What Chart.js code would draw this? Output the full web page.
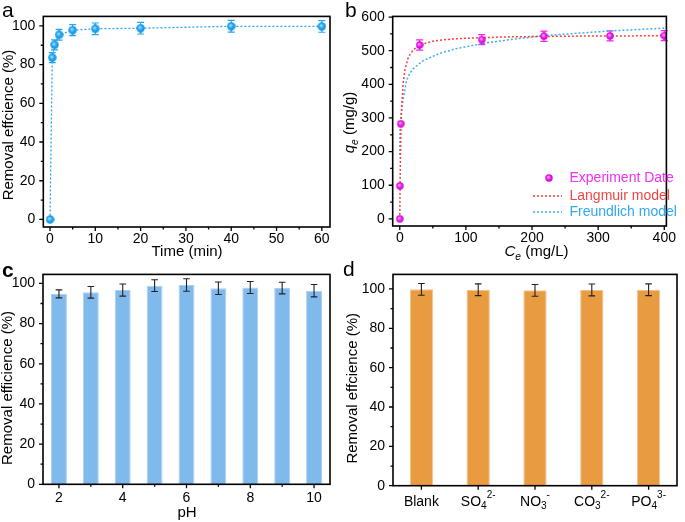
<!DOCTYPE html>
<html><head><meta charset="utf-8">
<script src="https://cdn.jsdelivr.net/npm/chart.js@4.4.1/dist/chart.umd.min.js"></script>
<style>
html,body{margin:0;padding:0;background:#fff;}
body{width:685px;height:522px;position:relative;overflow:hidden;}
canvas{position:absolute;}
</style></head><body>
<canvas id="ca" width="340" height="261" style="left:0;top:0"></canvas>
<canvas id="cb" width="340" height="261" style="left:340px;top:0"></canvas>
<canvas id="cc" width="340" height="264" style="left:0;top:258px"></canvas>
<canvas id="cd" width="345" height="264" style="left:340px;top:258px"></canvas>
<script>
// ---------- data ----------
// (a) kinetics
const timeMin = [0, 0.5, 1, 2, 5, 10, 20, 40, 60];
const removalTime = [0, 83.6, 90.2, 95.4, 97.8, 98.5, 98.8, 99.8, 99.7];
const removalTimeErr = [0, 2.6, 2.6, 2.8, 2.8, 3.0, 3.0, 3.0, 3.0];
// (b) isotherm
const ceExp = [0, 0.2, 1.5, 30, 124, 218, 318, 400];
const qeExp = [0, 98, 283, 517, 533, 543, 544, 545];
const qeErr = [0, 0, 0, 15, 15, 15, 15, 15];
const ceLangmuir = [0, 0.5, 1, 2, 3, 5, 8, 12, 16, 20, 25, 30, 40, 50, 60, 80, 100, 130, 160, 200, 250, 300, 350, 400];
const qeLangmuir = [0, 118, 194, 286, 340, 401, 445, 475, 491, 501, 510, 516, 523, 528, 531, 535, 537, 539, 541, 542, 543, 544, 544, 545];
const ceFreundlich = [0.02, 0.3, 1, 2, 5, 10, 15, 20, 35, 60, 85, 130, 175, 220, 270, 320, 360, 400];
const qeFreundlich = [190, 255, 285, 312, 354, 410, 432, 446, 470, 492, 506, 523, 535, 545, 552, 559, 563, 567];
const seriesNamesB = ['Experiment Date', 'Langmuir model', 'Freundlich model'];
// (c) pH
const phLabels = ['2', '3', '4', '5', '6', '7', '8', '9', '10'];
const removalPH = [94.8, 95.6, 96.7, 98.9, 99.2, 97.6, 98.0, 97.7, 96.4];
const removalPHErr = [2.0, 2.9, 3.0, 2.9, 3.1, 3.1, 3.0, 2.9, 3.1];
// (d) coexisting ions
const ionLabels = ['Blank', 'SO\u2084\u00B2\u207B', 'NO\u2083\u207B', 'CO\u2083\u00B2\u207B', 'PO\u2084\u00B3\u207B'];
const removalIon = [99.8, 99.6, 99.3, 99.5, 99.6];
const removalIonErr = [3.0, 3.0, 3.0, 3.0, 3.0];

// ---------- helpers ----------
const FONT = '"Liberation Sans", Arial, Helvetica, "DejaVu Sans", sans-serif';

function sphere(color, light, dark, d) {
  const c = document.createElement('canvas');
  c.width = c.height = d;
  const g = c.getContext('2d');
  const r = d / 2;
  const grad = g.createRadialGradient(r * 0.8, r * 0.75, 0, r, r, r);
  grad.addColorStop(0, light);
  grad.addColorStop(0.5, color);
  grad.addColorStop(1, dark);
  g.fillStyle = grad;
  g.beginPath(); g.arc(r, r, r - 0.3, 0, Math.PI * 2); g.fill();
  return c;
}

// converts unicode sub/superscript characters into drawable segments
const SUBS = '\u2080\u2081\u2082\u2083\u2084\u2085\u2086\u2087\u2088\u2089';
const SUPS = { '\u2070': '0', '\u00B9': '1', '\u00B2': '2', '\u00B3': '3', '\u2074': '4', '\u2075': '5', '\u2076': '6', '\u2077': '7', '\u2078': '8', '\u2079': '9', '\u207B': '-', '\u207A': '+' };
function toSegs(str) {
  const segs = [];
  for (const ch of str) {
    let kind = 'n', t = ch;
    const si = SUBS.indexOf(ch);
    if (si >= 0) { kind = 'sub'; t = String(si); }
    else if (SUPS[ch] !== undefined) { kind = 'sup'; t = SUPS[ch]; }
    const last = segs[segs.length - 1];
    if (last && last.kind === kind) last.t += t; else segs.push({ kind, t, sub: kind === 'sub', sup: kind === 'sup' });
  }
  return segs;
}

function drawRich(ctx, segs, cx, cy, rot, base, opt) {
  opt = opt || {};
  const subScale = opt.subScale || 0.68, subDy = opt.subDy != null ? opt.subDy : base * 0.32, supDy = opt.supDy != null ? opt.supDy : -base * 0.45;
  ctx.save();
  ctx.translate(cx, cy);
  ctx.rotate(rot);
  let w = 0;
  const parts = segs.map(s => {
    const small = s.sub || s.sup;
    const size = small ? base * subScale : base;
    const font = (s.italic ? 'italic ' : '') + size + 'px ' + FONT;
    ctx.font = font;
    const m = ctx.measureText(s.t).width;
    w += m;
    return { t: s.t, font, w: m, dy: s.sub ? subDy : (s.sup ? supDy : 0) };
  });
  let x = -w / 2;
  ctx.textBaseline = 'middle';
  ctx.textAlign = 'left';
  ctx.fillStyle = '#000';
  for (const p of parts) { ctx.font = p.font; ctx.fillText(p.t, x, p.dy); x += p.w; }
  ctx.restore();
}

function drawErrors(chart, cap, lw) {
  const ctx = chart.ctx;
  chart.data.datasets.forEach((ds, di) => {
    if (!ds.errorBars) return;
    const meta = chart.getDatasetMeta(di);
    const ys = chart.scales[meta.yAxisID];
    ctx.save();
    ctx.strokeStyle = ds.errorColor;
    ctx.lineWidth = lw;
    meta.data.forEach((el, i) => {
      const e = ds.errorBars[i];
      if (!e) return;
      const d = ds.data[i];
      const v = (typeof d === 'object') ? d.y : d;
      const y1 = ys.getPixelForValue(v + e), y2 = ys.getPixelForValue(v - e);
      const x = el.x;
      ctx.beginPath();
      ctx.moveTo(x, y1); ctx.lineTo(x, y2);
      ctx.moveTo(x - cap, y1); ctx.lineTo(x + cap, y1);
      ctx.moveTo(x - cap, y2); ctx.lineTo(x + cap, y2);
      ctx.stroke();
    });
    ctx.restore();
  });
}

function drawTicks(chart, scale, horiz, major, minor) {
  const ctx = chart.ctx, a = chart.chartArea;
  const marks = [];
  if (scale.type === 'category') {
    scale.ticks.forEach((t, i) => marks.push([scale.getPixelForTick(i), t.label === '' ? minor : major]));
  } else {
    const vals = scale.ticks.map(t => t.value);
    vals.forEach((v, i) => {
      marks.push([scale.getPixelForValue(v), major]);
      if (i < vals.length - 1) marks.push([scale.getPixelForValue((v + vals[i + 1]) / 2), minor]);
    });
  }
  ctx.save();
  ctx.strokeStyle = '#000';
  ctx.lineWidth = 1.3;
  ctx.beginPath();
  marks.forEach(([p, len]) => {
    if (horiz) { ctx.moveTo(p, a.bottom); ctx.lineTo(p, a.bottom + len); }
    else { ctx.moveTo(a.left, p); ctx.lineTo(a.left - len, p); }
  });
  ctx.stroke();
  ctx.restore();
}

const deco = {
  id: 'deco',
  beforeDatasetsDraw(chart, args, o) {
    if (o.errUnder) drawErrors(chart, o.cap, o.errWidth);
  },
  afterDatasetsDraw(chart, args, o) {
    if (!o.errUnder) drawErrors(chart, o.cap, o.errWidth);
  },
  afterDraw(chart, args, o) {
    const ctx = chart.ctx, a = chart.chartArea;
    ctx.save();
    ctx.strokeStyle = '#000';
    ctx.lineWidth = 1.6;
    ctx.strokeRect(a.left, a.top, a.right - a.left, a.bottom - a.top);
    ctx.restore();
    drawTicks(chart, chart.scales.x, true, 4, 2.5);
    drawTicks(chart, chart.scales.y, false, 4, 2.5);
    if (o.richXLabels) {
      const xs = chart.scales.x;
      chart.data.labels.forEach((lab, i) => {
        drawRich(ctx, toSegs(lab), xs.getPixelForTick(i), a.bottom + o.richXLabels.dy, 0, 14,
          { subScale: 0.72, subDy: 4.6, supDy: -6.5 });
      });
    }
    if (o.xTitle) drawRich(ctx, o.xTitle.segs, o.xTitle.x, o.xTitle.y, 0, 15);
    if (o.yTitle) drawRich(ctx, o.yTitle.segs, o.yTitle.x, o.yTitle.y, -Math.PI / 2, 15);
    if (o.label) {
      ctx.save();
      ctx.fillStyle = '#000';
      ctx.font = (o.label.bold ? 'bold ' : '') + '21px ' + FONT;
      ctx.textBaseline = 'alphabetic';
      ctx.textAlign = 'left';
      ctx.fillText(o.label.text, o.label.x, o.label.y);
      ctx.restore();
    }
    if (o.legend) {
      const L = o.legend;
      chart.data.datasets.forEach((ds, i) => {
        const y = L.ys[i];
        ctx.save();
        if (ds.legendKind === 'point') {
          const img = ds.pointStyle;
          ctx.drawImage(img, L.markX - img.width / 2, y - img.height / 2);
        } else {
          ctx.strokeStyle = ds.borderColor;
          ctx.lineWidth = ds.borderWidth;
          ctx.setLineDash(ds.borderDash);
          ctx.beginPath(); ctx.moveTo(L.x1, y); ctx.lineTo(L.x2, y); ctx.stroke();
        }
        ctx.setLineDash([]);
        ctx.fillStyle = ds.legendTextColor;
        ctx.font = '14px ' + FONT;
        ctx.textBaseline = 'middle';
        ctx.textAlign = 'left';
        ctx.fillText(ds.label, L.textX, y);
        ctx.restore();
      });
    }
  }
};
Chart.register(deco);

function linAxis(min, max, step, fitFn, pad) {
  return {
    type: 'linear', min, max,
    grid: { display: false, drawTicks: false, tickLength: 0 },
    border: { display: false },
    ticks: { stepSize: step, includeBounds: false, font: { family: FONT, size: 14 }, color: '#000', padding: pad, autoSkip: false, maxRotation: 0 },
    afterFit: fitFn
  };
}
function catAxis(cb, fitFn, pad, show) {
  return {
    type: 'category',
    grid: { display: false, drawTicks: false, tickLength: 0 },
    border: { display: false },
    ticks: { display: show, callback: cb, font: { family: FONT, size: 14 }, color: '#000', padding: pad, autoSkip: false, maxRotation: 0 },
    afterFit: fitFn
  };
}
const common = { responsive: false, animation: false, events: [] };
const removalTitleA = [{ t: 'Removal effcience (%)' }];
const removalTitleC = [{ t: 'Removal efficience (%)' }];

// ---------- (a) ----------
const blueA = '#27A6F0';
new Chart(document.getElementById('ca'), {
  type: 'scatter',
  data: { datasets: [{
    data: timeMin.map((t, i) => ({ x: t, y: removalTime[i] })),
    showLine: true, borderColor: blueA, borderWidth: 1.3, borderDash: [2, 2],
    pointStyle: sphere(blueA, '#BFE7FF', '#1490DD', 9),
    errorBars: removalTimeErr, errorColor: blueA
  }] },
  options: Object.assign({}, common, {
    layout: { padding: { top: 12, right: 10, left: 0, bottom: 0 } },
    plugins: { legend: { display: false }, tooltip: { enabled: false },
      deco: { errUnder: true, cap: 3.5, errWidth: 1.2,
        label: { text: 'a', x: 2, y: 16.5 },
        xTitle: { segs: [{ t: 'Time (min)' }], x: 187, y: 252 },
        yTitle: { segs: removalTitleA, x: 8.5, y: 125 } } },
    scales: {
      x: linAxis(-1.48, 61.8, 10, s => { s.height = 34; }, 4),
      y: linAxis(-3.9, 104.9, 20, s => { s.width = 43.3; }, 8)
    }
  })
});

// ---------- (b) ----------
const magenta = '#F020F0', redL = '#FF3B3B', blueF = '#3AAEF0';
new Chart(document.getElementById('cb'), {
  type: 'scatter',
  data: { datasets: [
    { label: seriesNamesB[0], data: ceExp.map((c, i) => ({ x: c, y: qeExp[i] })),
      pointStyle: sphere(magenta, '#FFC8FF', '#C000C0', 8), legendKind: 'point', legendTextColor: '#F030F0',
      errorBars: qeErr, errorColor: magenta },
    { label: seriesNamesB[1], data: ceLangmuir.map((c, i) => ({ x: c, y: qeLangmuir[i] })),
      showLine: true, pointRadius: 0, borderColor: redL, borderWidth: 1.5, borderDash: [2, 2],
      legendKind: 'line', legendTextColor: '#F04545' },
    { label: seriesNamesB[2], data: ceFreundlich.map((c, i) => ({ x: c, y: qeFreundlich[i] })),
      showLine: true, pointRadius: 0, borderColor: blueF, borderWidth: 1.5, borderDash: [2, 2],
      legendKind: 'line', legendTextColor: '#30A8F0' }
  ] },
  options: Object.assign({}, common, {
    layout: { padding: { top: 12, right: 5, left: 0, bottom: 0 } },
    plugins: { legend: { display: false }, tooltip: { enabled: false },
      deco: { errUnder: true, cap: 3.5, errWidth: 1.2,
        label: { text: 'b', x: 5, y: 17 },
        xTitle: { segs: [{ t: 'C', italic: true }, { t: 'e', italic: true, sub: true }, { t: ' (mg/L)' }], x: 196.5, y: 252 },
        yTitle: { segs: [{ t: 'q', italic: true }, { t: 'e', italic: true, sub: true }, { t: ' (mg/g)' }], x: 10, y: 122.5 },
        legend: { markX: 209, x1: 193, x2: 222, textX: 229.5, ys: [178, 196, 212] } } },
    scales: {
      x: linAxis(-10.7, 403.2, 100, s => { s.height = 35; }, 4),
      y: linAxis(-21.2, 602, 100, s => { s.width = 52.7; }, 8)
    }
  })
});

// ---------- (c) ----------
new Chart(document.getElementById('cc'), {
  type: 'bar',
  data: { labels: phLabels, datasets: [{
    data: removalPH, backgroundColor: '#80BAEC', borderColor: '#A9D1F4', borderWidth: 1,
    categoryPercentage: 1, barPercentage: 0.5,
    errorBars: removalPHErr, errorColor: '#222'
  }] },
  options: Object.assign({}, common, {
    layout: { padding: { top: 12, right: 10, left: 0, bottom: 0 } },
    plugins: { legend: { display: false }, tooltip: { enabled: false },
      deco: { errUnder: false, cap: 3.3, errWidth: 1.1,
        label: { text: 'c', x: 2, y: 18.7, bold: true },
        xTitle: { segs: [{ t: 'pH' }], x: 187, y: 255 },
        yTitle: { segs: removalTitleC, x: 7.5, y: 130 } } },
    scales: {
      x: catAxis((v, i) => (i % 2 === 0 ? phLabels[i] : ''), s => { s.height = 37.7; }, 5, true),
      y: linAxis(0, 104.5, 20, s => { s.width = 43; }, 8)
    }
  })
});

// ---------- (d) ----------
new Chart(document.getElementById('cd'), {
  type: 'bar',
  data: { labels: ionLabels, datasets: [{
    data: removalIon, backgroundColor: '#E99B41', borderColor: '#F3C38C', borderWidth: 1,
    categoryPercentage: 1, barPercentage: 0.41,
    errorBars: removalIonErr, errorColor: '#222'
  }] },
  options: Object.assign({}, common, {
    layout: { padding: { top: 9.3, right: 8, left: 0, bottom: 0 } },
    plugins: { legend: { display: false }, tooltip: { enabled: false },
      deco: { errUnder: false, cap: 3.3, errWidth: 1.1,
        label: { text: 'd', x: 3, y: 17.7 },
        richXLabels: { dy: 16 },
        yTitle: { segs: removalTitleA, x: 13, y: 130.3 } } },
    scales: {
      x: catAxis((v, i) => ionLabels[i], s => { s.height = 36.3; }, 7, false),
      y: linAxis(0, 107.4, 20, s => { s.width = 53; }, 8)
    }
  })
});
</script>
</body></html>
